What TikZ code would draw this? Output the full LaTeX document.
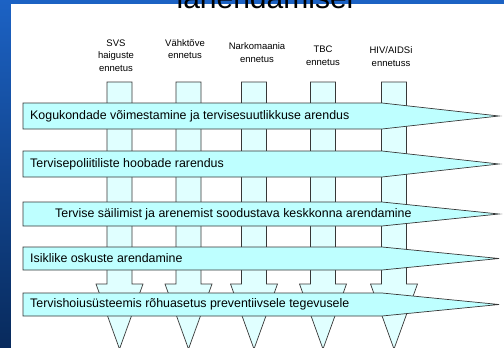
\documentclass[tikz,border=0pt]{standalone}
\usepackage{fontspec}
\setmainfont{Liberation Sans}
\usepackage{tikz}
\usetikzlibrary{positioning}

\definecolor{slideblue}{RGB}{28,98,196}
\definecolor{slidenavy}{RGB}{8,42,92}
\definecolor{bandfill}{RGB}{190,255,255}
\definecolor{colfill}{RGB}{224,255,255}
\definecolor{edgegray}{RGB}{55,55,55}

\begin{document}
\begin{tikzpicture}[
    x=1pt, y=-1pt,
    column/.style={draw=edgegray, line width=0.7pt, fill=colfill},
    band/.style={draw=edgegray, line width=0.7pt, fill=bandfill},
    bandtext/.style={font=\fontsize{12.4}{14}\selectfont, inner sep=0pt},
    collabel/.style={align=center, inner sep=0pt, font=\fontsize{9.5}{12.5}\selectfont}
]

% Slide frame
\useasboundingbox (0,0) rectangle (504,348);
\clip (0,0) rectangle (504,348);
\shade[top color=slideblue, bottom color=slidenavy] (0,0) rectangle (504,348);
\fill[white] (11,4) rectangle (504,348);
\node[anchor=base, font=\fontsize{30}{30}\selectfont, inner sep=0pt] (title) at (265,9) {lahendamisel};

% Column labels
\node[collabel] (svs) at (116,55.5) {SVS\\haiguste\\ennetus};
\node[collabel] (vahk) at (185,49) {Vähktõve\\ennetus};
\node[collabel] (nark) at (257,52.5) {Narkomaania\\ennetus};
\node[collabel] (tbc) at (323,55.5) {TBC\\ennetus};
\node[collabel] (hiv) at (391,56.5) {HIV/AIDSi\\ennetuss};

% Downward arrows (behind the bands)
\foreach \cx in {119.5,188.5,254,323,394} {
    \draw[column] (\cx-12.5,82) -- (\cx+12.5,82) -- (\cx+12.5,284) -- (\cx+23.5,284)
        -- (\cx,349) -- (\cx-23.5,284) -- (\cx-12.5,284) -- cycle;
}

% Horizontal arrows
\foreach \top/\bot in {103/129,151/177,202/226,247/270,293/316} {
    \draw[band] (23,\top) -- (382,\top) -- (499,{(\top+\bot)/2}) -- (382,\bot) -- (23,\bot) -- cycle;
}

% Band texts
\node[bandtext, anchor=west] (kogu) at (30,116) {Kogukondade võimestamine ja tervisesuutlikkuse arendus};
\node[bandtext, anchor=west] (poli) at (30,164) {Tervisepoliitiliste hoobade rarendus};
\node[bandtext, anchor=west] (kesk) at (55,214) {Tervise säilimist ja arenemist soodustava keskkonna arendamine};
\node[bandtext, anchor=west] (isik) at (30,258.5) {Isiklike oskuste arendamine};
\node[bandtext, anchor=west] (prev) at (30,304.5) {Tervishoiusüsteemis rõhuasetus preventiivsele tegevusele};

\end{tikzpicture}
\end{document}
